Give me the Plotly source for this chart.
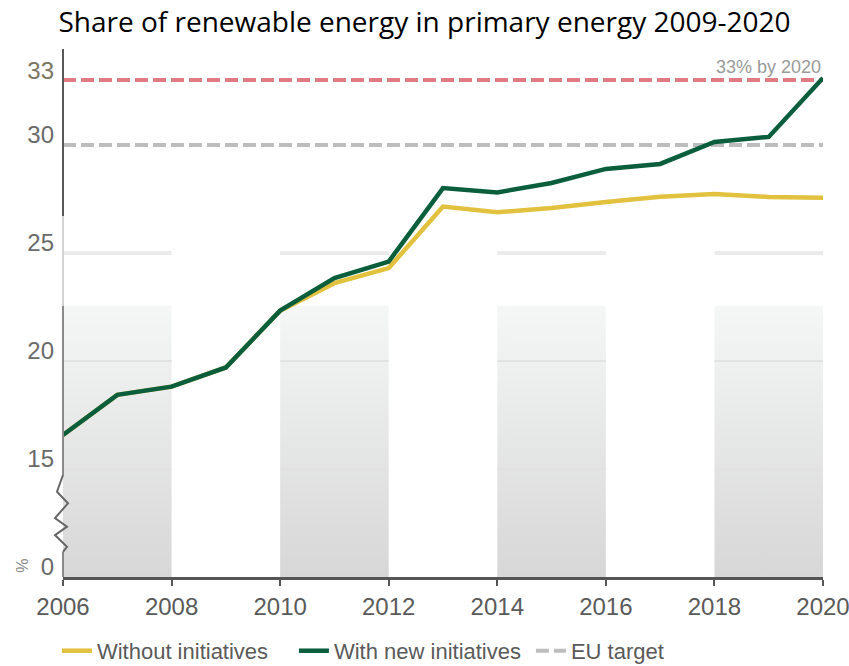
import plotly.graph_objects as go

# data
years = list(range(2006, 2021))
without_initiatives = [16.57, 18.43, 18.81, 19.70, 22.33, 23.60, 24.30, 27.15, 26.88,
                       27.08, 27.36, 27.60, 27.73, 27.59, 27.55]
with_new_initiatives = [16.57, 18.43, 18.81, 19.70, 22.33, 23.84, 24.60, 28.00, 27.80,
                        28.24, 28.89, 29.12, 30.14, 30.37, 33.10]
eu_target = 30
goal_2020 = 33
band_starts = [2006, 2010, 2014, 2018]   # shaded two-year columns
band_top = 22.55
grid_levels = [15, 20, 25]

# fake broken axis: bottom of the plot (10) stands for 0
y_bottom = 10
y_top = 34.44
tick_vals = [10, 15, 20, 25, 30, 33]
tick_text = ["0", "15", "20", "25", "30", '<span style="color:#7a7660">33</span>']

SANS = "Liberation Sans, Arial, sans-serif"
GREEN = "#0b5e3c"
YELLOW = "#e2c13e"

L, R, T, B, W, H = 63, 26, 49, 89, 849, 666
PW = W - L - R


def py(v):
    # y value -> paper fraction
    return (v - y_bottom) / (y_top - y_bottom)


def px(p):
    # pixel offset from plot left -> paper fraction
    return p / PW


fig = go.Figure()

# grey gradient columns
for b in band_starts:
    fig.add_trace(go.Scatter(
        x=[b, b + 2, b + 2, b, b], y=[y_bottom, y_bottom, band_top, band_top, y_bottom],
        fill="toself", mode="lines", line=dict(width=0),
        fillgradient=dict(type="vertical",
                          colorscale=[[0, "#d7d7d7"], [1, "#f5f6f6"]]),
        showlegend=False, hoverinfo="skip"))

# grid segments only across the shaded columns
for lvl in grid_levels:
    gx, gy = [], []
    for b in band_starts:
        gx += [b, b + 2, None]
        gy += [lvl, lvl, None]
    fig.add_trace(go.Scatter(
        x=gx, y=gy, mode="lines",
        line=dict(color="#ebebeb" if lvl > band_top else "#e2e2e2",
                  width=4 if lvl > band_top else 2),
        showlegend=False, hoverinfo="skip"))

fig.add_trace(go.Scatter(
    x=[years[0], years[-1]], y=[goal_2020, goal_2020], mode="lines",
    line=dict(color="#e07a83", width=4, dash="13px,5px"),
    showlegend=False, hoverinfo="skip"))
fig.add_trace(go.Scatter(
    x=[years[0], years[-1]], y=[eu_target, eu_target], mode="lines",
    line=dict(color="#bdbdbd", width=4, dash="13px,5px"),
    name="EU target", legendrank=3))
fig.add_trace(go.Scatter(
    x=years, y=without_initiatives, mode="lines",
    line=dict(color=YELLOW, width=4.5),
    name="Without initiatives", legendrank=1))
fig.add_trace(go.Scatter(
    x=years, y=with_new_initiatives, mode="lines",
    line=dict(color=GREEN, width=4.5),
    name="With new initiatives", legendrank=2))

# y axis line, interrupted by the zigzag (paper coords so it is not clipped)
for y0, y1, col in [(26.7, y_top, "#5a5a5a"), (22.55, 26.7, "#d4d4d4"),
                    (14.72, 22.55, "#8a8a8a"), (y_bottom, 11.16, "#8a8a8a")]:
    fig.add_shape(type="line", xref="paper", yref="paper", x0=0, x1=0,
                  y0=py(y0), y1=py(y1), line=dict(color=col, width=2))
zig = [(0, 14.72), (-6, 13.95), (5, 13.41), (-8, 12.73), (4, 12.33),
       (-8, 11.94), (4, 11.40), (0, 11.16)]
fig.add_shape(type="path", xref="paper", yref="paper",
              path="M " + " L ".join(f"{px(a):.5f},{py(v):.5f}" for a, v in zig),
              line=dict(color="#666666", width=2))

fig.add_annotation(x=2020, y=goal_2020, xref="x", yref="y", text="33% by 2020",
                   showarrow=False, xanchor="right", yanchor="bottom", yshift=1,
                   font=dict(family=SANS, size=18, color="#9a9a9a"))
fig.add_annotation(x=px(12 - L), y=10.5, xref="paper", yref="y", text="%",
                   showarrow=False, textangle=-90,
                   font=dict(family=SANS, size=16, color="#8a8a8a"))

fig.update_layout(
    width=W, height=H,
    margin=dict(l=L, r=R, t=T, b=B, autoexpand=False),
    paper_bgcolor="white", plot_bgcolor="white",
    title=dict(text="Share of renewable energy in primary energy 2009-2020",
               x=0.5, xref="container", xanchor="center",
               y=1 - 22 / H, yref="container", yanchor="middle",
               font=dict(family="Open Sans, Noto Sans, sans-serif", size=28, color="#000000")),
    xaxis=dict(range=[2006, 2020], tickvals=list(range(2006, 2021, 2)),
               showgrid=False, zeroline=False, showline=True, automargin=False,
               linecolor="#555555", linewidth=3, ticks="outside", ticklen=6,
               tickwidth=2, tickcolor="#555555", ticklabeloverflow="allow",
               tickfont=dict(family=SANS, size=24, color="#5a5a5a")),
    yaxis=dict(range=[y_bottom, y_top], tickvals=tick_vals, ticktext=tick_text,
               showgrid=False, zeroline=False, showline=False, ticks="",
               automargin=False, ticklabelshift=-10, ticklabelstandoff=8,
               tickfont=dict(family=SANS, size=24, color="#6a6a6a")),
    legend=dict(orientation="h", x=-0.008, xanchor="left", y=-0.14, yanchor="middle",
                entrywidth=192, entrywidthmode="pixels",
                font=dict(family=SANS, size=22, color="#5a5a5a"),
                bgcolor="rgba(0,0,0,0)"),
    showlegend=True,
)

fig.write_html("out.html", config={"displayModeBar": False},
               post_script="document.body.style.margin='0';")
